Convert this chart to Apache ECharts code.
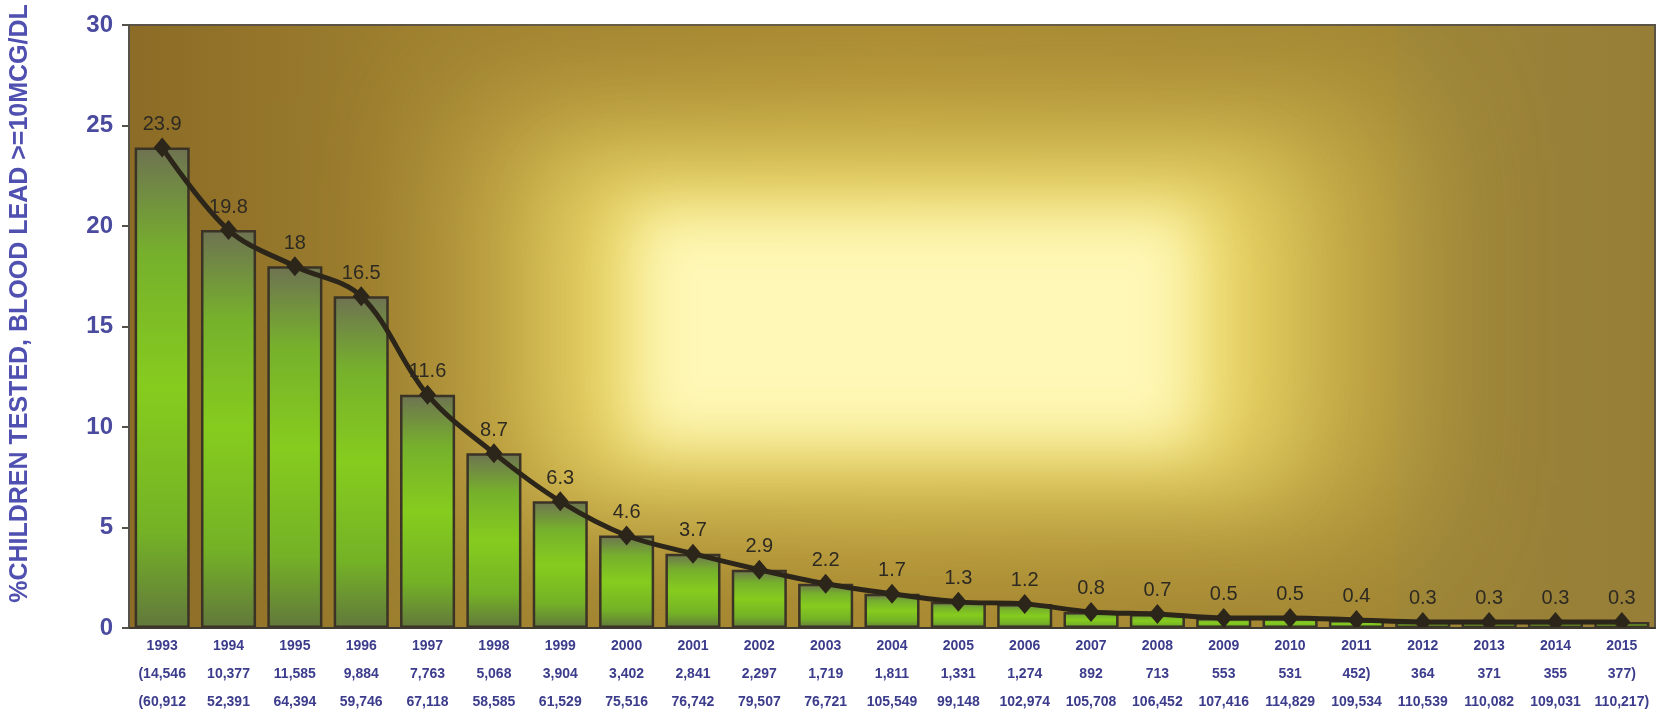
<!DOCTYPE html>
<html>
  <head>
    <meta charset="utf-8" />
    <title>Children blood lead</title>
    <script src="https://cdn.jsdelivr.net/npm/echarts@6/dist/echarts.min.js"></script>
    <style>
      * {
        margin: 0;
        padding: 0;
        box-sizing: border-box;
      }
      body {
        background: #ffffff;
      }
    </style>
  </head>
  <body>
    <div id="main" style="width: 1667px; height: 716px"></div>
    <script type="text/javascript">
      var myChart = echarts.init(document.getElementById("main"));

      // 年份
      const years = [
        "1993", "1994", "1995", "1996", "1997", "1998", "1999", "2000",
        "2001", "2002", "2003", "2004", "2005", "2006", "2007", "2008",
        "2009", "2010", "2011", "2012", "2013", "2014", "2015",
      ];
      // 血铅 >= 10 的儿童数
      const elevated = [
        "(14,546", "10,377", "11,585", "9,884", "7,763", "5,068", "3,904",
        "3,402", "2,841", "2,297", "1,719", "1,811", "1,331", "1,274", "892",
        "713", "553", "531", "452)", "364", "371", "355", "377)",
      ];
      // 检测儿童总数
      const tested = [
        "(60,912", "52,391", "64,394", "59,746", "67,118", "58,585", "61,529",
        "75,516", "76,742", "79,507", "76,721", "105,549", "99,148", "102,974",
        "105,708", "106,452", "107,416", "114,829", "109,534", "110,539",
        "110,082", "109,031", "110,217)",
      ];
      // 百分比
      const percent = [
        23.9, 19.8, 18, 16.5, 11.6, 8.7, 6.3, 4.6, 3.7, 2.9, 2.2, 1.7, 1.3,
        1.2, 0.8, 0.7, 0.5, 0.5, 0.4, 0.3, 0.3, 0.3, 0.3,
      ];

      const blue = "#4a4a9e";

      // 只显示模糊阴影的矩形(本体移到画面外)
      function glow(x, y, w, h, color, blur) {
        return {
          type: "rect",
          z: 1,
          silent: true,
          shape: { x: x - 6000, y: y, width: w, height: h },
          style: {
            fill: "#000",
            shadowColor: color,
            shadowBlur: blur,
            shadowOffsetX: 6000,
          },
        };
      }
      // 遮住绘图区外的光晕
      function cover(x, y, w, h) {
        return {
          type: "rect",
          z: 4,
          silent: true,
          shape: { x: x, y: y, width: w, height: h },
          style: { fill: "#ffffff" },
        };
      }

      var option = {
        backgroundColor: "#ffffff",
        textStyle: { fontFamily: "Liberation Sans, Arial, sans-serif" },
        grid: {
          left: 128,
          right: 12,
          top: 25,
          bottom: 88,
          show: true,
          borderColor: "#5a5244",
          borderWidth: 2,
          backgroundColor: new echarts.graphic.LinearGradient(0, 0, 1, 0, [
            { offset: 0, color: "#8c6c26" },
            { offset: 0.18, color: "#9c7e2e" },
            { offset: 0.5, color: "#a6872f" },
            { offset: 0.83, color: "#a08432" },
            { offset: 0.832, color: "#9c8436" },
            { offset: 1, color: "#967e38" },
          ]),
        },
        graphic: [
          glow(460, 100, 940, 430, "rgba(215,190,80,0.75)", 130),
          glow(565, 165, 710, 320, "rgba(242,225,110,0.85)", 90),
          glow(635, 212, 560, 232, "rgba(255,248,182,1)", 55),
          cover(0, 0, 1667, 24),
          cover(0, 629, 1667, 87),
          cover(0, 0, 127, 716),
          cover(1656, 0, 11, 716),
        ],
        xAxis: {
          type: "category",
          data: years,
          z: 6,
          axisLine: { lineStyle: { color: "#3e3a30", width: 2 } },
          axisTick: { show: false },
          axisLabel: {
            interval: 0,
            margin: 4,
            color: "#3c3c8c",
            fontSize: 14,
            fontWeight: "bold",
            lineHeight: 28,
            formatter: function (value, i) {
              return value + "\n" + elevated[i] + "\n" + tested[i];
            },
          },
        },
        yAxis: {
          type: "value",
          min: 0,
          max: 30,
          interval: 5,
          z: 6,
          name: "%CHILDREN TESTED, BLOOD LEAD >=10MCG/DL",
          nameLocation: "middle",
          nameGap: 96,
          nameTextStyle: {
            color: "#5050b0",
            fontSize: 25,
            fontWeight: "bold",
            padding: [0, 0, 0, 46],
          },
          axisLine: { show: true, lineStyle: { color: "#55524a", width: 2 } },
          axisTick: { show: true, length: 7, lineStyle: { color: "#55524a", width: 2 } },
          axisLabel: {
            margin: 16,
            color: blue,
            fontSize: 24,
            fontWeight: "bold",
          },
          splitLine: { show: false },
        },
        series: [
          {
            type: "bar",
            data: percent,
            barWidth: "83%",
            z: 2,
            itemStyle: {
              borderColor: "#3b3326",
              borderWidth: 2.5,
              color: new echarts.graphic.LinearGradient(0, 0, 0, 1, [
                { offset: 0, color: "#6e7252" },
                { offset: 0.22, color: "#76b02c" },
                { offset: 0.5, color: "#86cc1e" },
                { offset: 0.8, color: "#74b226" },
                { offset: 1, color: "#62783c" },
              ]),
            },
          },
          {
            type: "line",
            data: percent,
            z: 3,
            smooth: 0.35,
            symbol: "diamond",
            symbolSize: [17, 20],
            lineStyle: { color: "#2c2519", width: 5 },
            itemStyle: { color: "#2c2519" },
            label: {
              show: true,
              position: "top",
              distance: 3,
              color: "#2e2a22",
              fontSize: 20,
            },
          },
        ],
      };

      myChart.setOption(option);

      window.addEventListener("resize", function () {
        myChart.resize();
      });
    </script>
  </body>
</html>
